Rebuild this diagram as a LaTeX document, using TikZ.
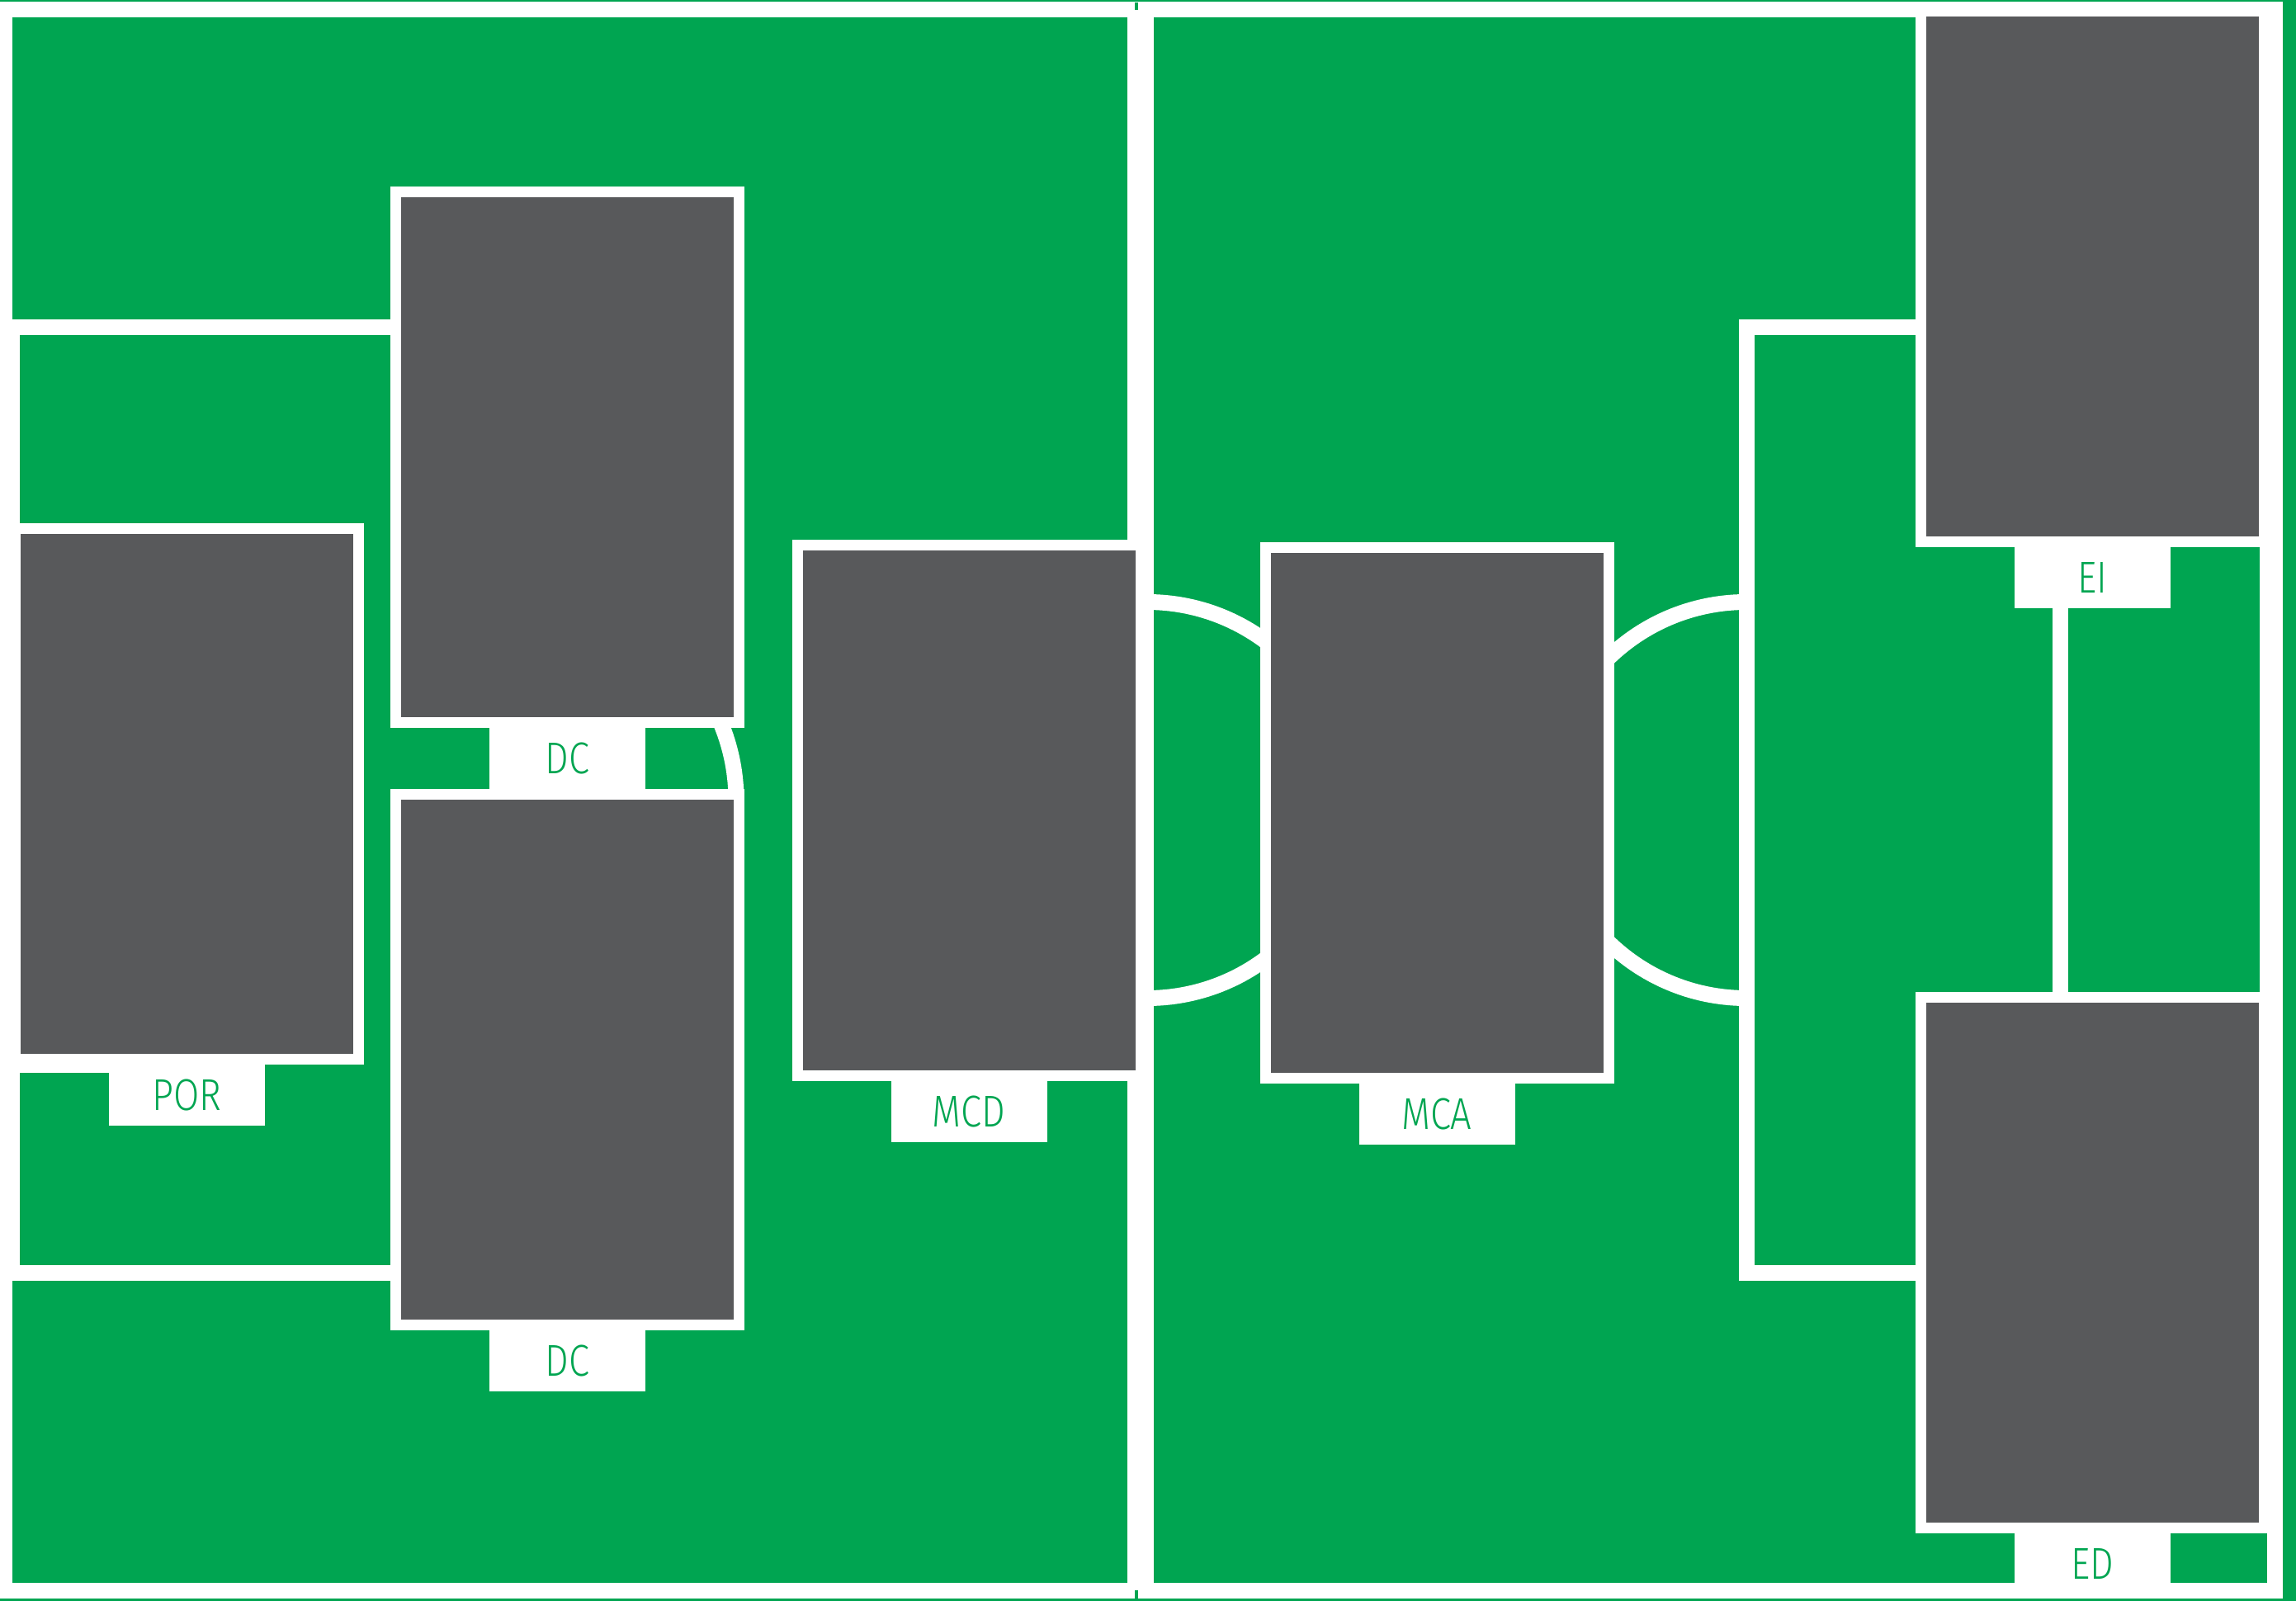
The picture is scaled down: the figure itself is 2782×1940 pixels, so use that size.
\documentclass[tikz,border=0pt]{standalone}
\usepackage{fontspec}
\newfontfamily\labfont[FakeStretch=0.84]{Fira Sans Light}
\definecolor{pitch}{HTML}{00A551}
\definecolor{card}{HTML}{58595B}
\begin{document}
\begin{tikzpicture}[x=1pt,y=-1pt,
  fieldline/.style={draw=white,line width=19pt},
  player/.style={rectangle,fill=card,draw=white,line width=13pt,
    minimum width=416pt,minimum height=643pt,inner sep=0pt},
  tag/.style={rectangle,fill=white,minimum width=189pt,minimum height=74pt,
    inner sep=0pt,outer sep=0pt,anchor=north,text=pitch,font=\labfont\fontsize{54}{54}\selectfont}]
\useasboundingbox (0,0) rectangle (2782,1940);
\fill[pitch] (0,0) rectangle (2782,1940);
% outer line
\draw[fieldline] (5.5,12) rectangle (2756.5,1927.5);
% penalty and goal areas
\draw[fieldline] (14.5,396.5) rectangle (646,1542.5);
\draw[fieldline] (14.5,648.5) rectangle (266,1290.5);
\draw[fieldline] (2116,396.5) rectangle (2747.5,1542.5);
\draw[fieldline] (2496.5,648.5) rectangle (2747.5,1290.5);
% arcs
\draw[fieldline] (1390,969.5) circle[radius=240];
\draw[fieldline] (650,969.5) ++(-90:242) arc[start angle=-90,end angle=90,radius=242];
\draw[fieldline] (2116,969.5) ++(90:240) arc[start angle=90,end angle=270,radius=240];
% halfway line
\draw[white,line width=32pt] (1382,12) -- (1382,1927.5);
\fill[pitch] (1375,3) rectangle (1379,12);
\fill[pitch] (1375,1927) rectangle (1379,1937);
% players
\node[player] (por) at (226.5,962) {};
\node[player] (dca) at (687.5,553.5) {};
\node[player] (dcb) at (687.5,1283.5) {};
\node[player] (mcd) at (1174,982) {};
\node[player] (mca) at (1741,984.5) {};
\node[player] (ei) at (2535.5,335) {};
\node[player] (ed) at (2535.5,1530) {};
% labels
\node[tag] (porlab) at (por.south) {POR};
\node[tag] (dcalab) at (dca.south) {DC};
\node[tag] (dcblab) at (dcb.south) {DC};
\node[tag] (mcdlab) at (mcd.south) {MCD};
\node[tag] (mcalab) at (mca.south) {MCA};
\node[tag] (eilab) at (ei.south) {EI};
\node[tag] (edlab) at (ed.south) {ED};
\end{tikzpicture}
\end{document}
